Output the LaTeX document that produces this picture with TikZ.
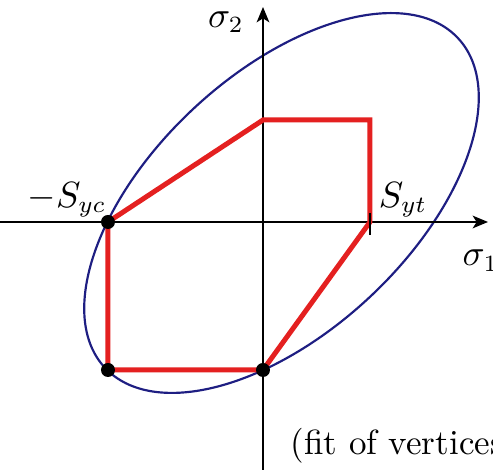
\documentclass[tikz,border=0pt]{standalone}
\usetikzlibrary{arrows.meta}
\definecolor{ellblue}{RGB}{30,30,130}
\definecolor{polyred}{RGB}{228,32,32}
\tikzset{
  axis/.style={line width=0.6pt, -{Stealth[length=4.6pt,width=3.8pt,inset=1.2pt]}},
  ell/.style={draw=ellblue, line width=0.65pt},
  poly/.style={draw=polyred, line width=1.5pt, line join=miter},
  vdot/.style={fill=black},
  lab/.style={inner sep=0pt, font=\fontsize{10.5}{12.5}\selectfont}
}
\begin{document}
\begin{tikzpicture}[x=0.3pt,y=0.3pt]
\useasboundingbox (-263,-250) rectangle (230,222);
\coordinate (O) at (0,0);
\coordinate (A) at (0,102);
\coordinate (B) at (107,102);
\coordinate (C) at (107,0);
\coordinate (D) at (0,-148);
\coordinate (E) at (-155,-148);
\coordinate (F) at (-155,0);
\coordinate (Ec) at (18.5,19.0);
\coordinate (xl) at (-263,0);
\coordinate (xr) at (225,0);
\coordinate (yb) at (0,-248);
\coordinate (yt) at (0,215);
\coordinate (tk1) at (107,9);
\coordinate (tk2) at (107,-13);
% ellipse
\draw[ell, rotate around={43.04:(Ec)}] (Ec) ellipse [x radius=241.5, y radius=129];
% axes
\draw[axis] (xl) -- (xr);
\draw[axis] (yb) -- (yt);
% polygon
\draw[poly] (A) -- (B) -- (C) -- (D) -- (E) -- (F) -- cycle;
% tick
\draw[line width=0.6pt] (tk1) -- (tk2);
% dots
\fill[vdot] (F) circle [radius=7];
\fill[vdot] (E) circle [radius=7];
\fill[vdot] (D) circle [radius=7];
% labels
\node[lab] (s2) at (-37,200) {$\sigma_2$};
\node[lab, anchor=base west] (s1) at (199,-44) {$\sigma_1$};
\node[lab] (syc) at (-196,22) {$-S_{yc}$};
\node[lab] (syt) at (140,22) {$S_{yt}$};
\node[lab, anchor=base west] (fit) at (27,-233) {(fit of vertices};
\end{tikzpicture}
\end{document}
